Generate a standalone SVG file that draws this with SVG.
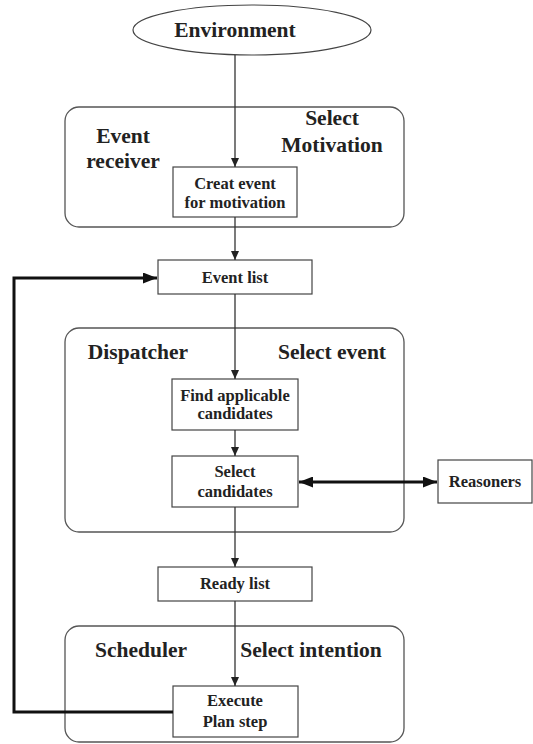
<svg xmlns="http://www.w3.org/2000/svg" width="533" height="744" viewBox="0 0 533 744">
<defs>
<style>
text{font-family:'Liberation Serif','Times New Roman',serif;font-weight:bold;fill:#222;text-anchor:middle}
.big{font-size:21.5px}
.sm{font-size:16.5px}
.grp{fill:none;stroke:#555;stroke-width:1.3}
.box{fill:#fff;stroke:#444;stroke-width:1.2}
.ln{fill:none;stroke:#333;stroke-width:1.3}
.thick{fill:none;stroke:#111;stroke-width:3}
</style>
<marker id="a" markerWidth="9" markerHeight="8" refX="9" refY="4" orient="auto" markerUnits="userSpaceOnUse" viewBox="0 0 9 8">
<path d="M0,0 L9,4 L0,8 Z" fill="#222"/>
</marker>
<marker id="b" markerWidth="14" markerHeight="11" refX="14" refY="5.5" orient="auto-start-reverse" markerUnits="userSpaceOnUse" viewBox="0 0 14 11">
<path d="M0,0 L14,5.5 L0,11 Z" fill="#111"/>
</marker>
</defs>

<g id="environment">
<ellipse cx="252" cy="30" rx="119" ry="25" fill="#fff" stroke="#444" stroke-width="1.2"/>
<text class="big" x="235" y="37">Environment</text>
</g>

<g id="event-receiver">
<rect class="grp" x="65" y="107" width="339" height="120" rx="14"/>
<text class="big" x="123" y="143">Event</text>
<text class="big" x="123" y="168">receiver</text>
<text class="big" x="332" y="125">Select</text>
<text class="big" x="332" y="152">Motivation</text>
</g>

<g id="creat-event">
<rect class="box" x="173" y="167" width="124" height="50"/>
<text class="sm" x="235" y="189">Creat event</text>
<text class="sm" x="235" y="208">for motivation</text>
</g>

<g id="event-list">
<rect class="box" x="158" y="260" width="154" height="34"/>
<text class="sm" x="235" y="283">Event list</text>
</g>

<g id="dispatcher">
<rect class="grp" x="65" y="328" width="339" height="204" rx="14"/>
<text class="big" x="138" y="359">Dispatcher</text>
<text class="big" x="332" y="359">Select event</text>
</g>

<g id="find-candidates">
<rect class="box" x="172" y="379" width="126" height="51"/>
<text class="sm" x="235" y="401">Find applicable</text>
<text class="sm" x="235" y="419">candidates</text>
</g>

<g id="select-candidates">
<rect class="box" x="172" y="456" width="126" height="51"/>
<text class="sm" x="235" y="477">Select</text>
<text class="sm" x="235" y="497">candidates</text>
</g>

<g id="reasoners">
<rect class="box" x="438" y="460" width="94" height="43"/>
<text class="sm" x="485" y="487">Reasoners</text>
</g>

<g id="ready-list">
<rect class="box" x="158" y="567" width="154" height="34"/>
<text class="sm" x="235" y="589">Ready list</text>
</g>

<g id="scheduler">
<rect class="grp" x="65" y="626" width="339" height="116" rx="14"/>
<text class="big" x="141" y="657">Scheduler</text>
<text class="big" x="311" y="657">Select intention</text>
</g>

<g id="execute">
<rect class="box" x="173" y="686" width="125" height="51"/>
<text class="sm" x="235" y="706">Execute</text>
<text class="sm" x="235" y="727">Plan step</text>
</g>

<g id="connectors">
<line class="ln" x1="235" y1="55" x2="235" y2="167" marker-end="url(#a)"/>
<line class="ln" x1="235" y1="217" x2="235" y2="260" marker-end="url(#a)"/>
<line class="ln" x1="235" y1="294" x2="235" y2="379" marker-end="url(#a)"/>
<line class="ln" x1="235" y1="430" x2="235" y2="456" marker-end="url(#a)"/>
<line class="ln" x1="235" y1="507" x2="235" y2="567" marker-end="url(#a)"/>
<line class="ln" x1="235" y1="601" x2="235" y2="686" marker-end="url(#a)"/>
<line class="thick" x1="299" y1="482" x2="437" y2="482" marker-start="url(#b)" marker-end="url(#b)"/>
<polyline class="thick" points="173,712 14,712 14,278 157,278" marker-end="url(#b)"/>
</g>
</svg>
